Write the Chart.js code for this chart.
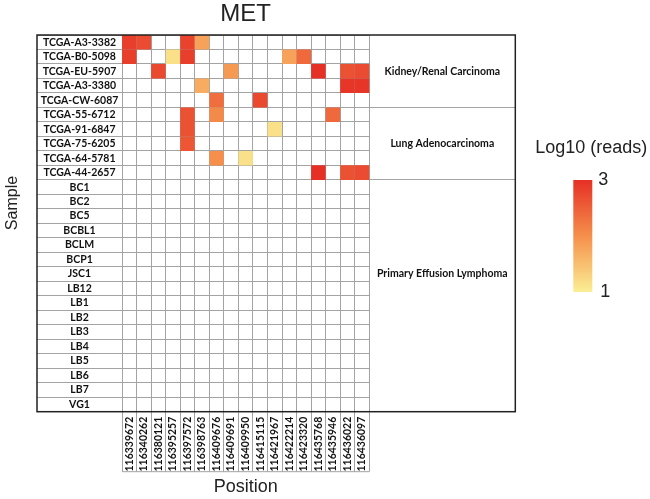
<!DOCTYPE html>
<html>
<head>
<meta charset="utf-8">
<title>MET</title>
<script src="https://cdn.jsdelivr.net/npm/chart.js@4.4.1/dist/chart.umd.min.js"></script>
<style>
  html, body { margin: 0; padding: 0; background: #fff; }
</style>
</head>
<body>
<canvas id="heatmap" width="650" height="499"></canvas>
<script>
// Samples (rows, top to bottom) and genomic positions (columns)
const samples = [
  'TCGA-A3-3382', 'TCGA-B0-5098', 'TCGA-EU-5907', 'TCGA-A3-3380', 'TCGA-CW-6087',
  'TCGA-55-6712', 'TCGA-91-6847', 'TCGA-75-6205', 'TCGA-64-5781', 'TCGA-44-2657',
  'BC1', 'BC2', 'BC5', 'BCBL1', 'BCLM', 'BCP1', 'JSC1', 'LB12',
  'LB1', 'LB2', 'LB3', 'LB4', 'LB5', 'LB6', 'LB7', 'VG1'
];
const positions = [
  '116339672', '116340262', '116380121', '116395257', '116397572', '116398763',
  '116409676', '116409691', '116409950', '116415115', '116421967', '116422214',
  '116423320', '116435768', '116435946', '116436022', '116436097'
];

// Sample groups shown in the right column
const groupNames = ['Kidney/Renal Carcinoma', 'Lung Adenocarcinoma', 'Primary Effusion Lymphoma'];
const groupFirstSample = ['TCGA-A3-3382', 'TCGA-55-6712', 'BC1'];
const groupLabelSample = ['TCGA-EU-5907', 'TCGA-75-6205', 'JSC1'];

// [sample, position, log10(reads)] - empty cells have no reads
const hits = [
  ['TCGA-A3-3382', '116339672', 2.85], ['TCGA-A3-3382', '116340262', 2.7],
  ['TCGA-A3-3382', '116397572', 2.8], ['TCGA-A3-3382', '116398763', 1.8],
  ['TCGA-B0-5098', '116339672', 2.85], ['TCGA-B0-5098', '116395257', 1.15],
  ['TCGA-B0-5098', '116397572', 2.85], ['TCGA-B0-5098', '116422214', 1.8],
  ['TCGA-B0-5098', '116423320', 2.4],
  ['TCGA-EU-5907', '116380121', 2.75], ['TCGA-EU-5907', '116409691', 1.9],
  ['TCGA-EU-5907', '116435768', 3.0], ['TCGA-EU-5907', '116436022', 2.65],
  ['TCGA-EU-5907', '116436097', 2.7],
  ['TCGA-A3-3380', '116398763', 1.7], ['TCGA-A3-3380', '116436022', 2.95],
  ['TCGA-A3-3380', '116436097', 2.95],
  ['TCGA-CW-6087', '116409676', 2.35], ['TCGA-CW-6087', '116415115', 2.75],
  ['TCGA-55-6712', '116397572', 2.65], ['TCGA-55-6712', '116409676', 2.05],
  ['TCGA-55-6712', '116435946', 2.4],
  ['TCGA-91-6847', '116397572', 2.65], ['TCGA-91-6847', '116421967', 1.15],
  ['TCGA-75-6205', '116397572', 2.6],
  ['TCGA-64-5781', '116409676', 2.0], ['TCGA-64-5781', '116409950', 1.15],
  ['TCGA-44-2657', '116435768', 3.0], ['TCGA-44-2657', '116436022', 2.65],
  ['TCGA-44-2657', '116436097', 2.7]
];

// Colour scale (log10 reads)
const scaleTicks = [1, 3];
const colorStops = [[1, [251, 238, 148]], [2, [245, 143, 75]], [3, [230, 48, 38]]];

const GRID = '#a3a3a3';
const INK = '#111111';
const LEFT_W = 122;    // label column + room for axis title
const LABEL_W = 85;    // sample label column inside the frame
const GROUP_W = 146;   // group label column
const POS_BOX = 60;    // boxes under the grid holding the positions
const LABEL_FONT = { family: 'Lato', weight: 'bold', size: 10.5 };

function colorFor(v) {
    if (v == null) return '#ffffff';
    for (let i = 1; i < colorStops.length; i++) {
        const [v0, c0] = colorStops[i - 1];
        const [v1, c1] = colorStops[i];
        if (v <= v1 || i === colorStops.length - 1) {
            const t = Math.min(1, Math.max(0, (v - v0) / (v1 - v0)));
            const c = c0.map((ch, k) => Math.round(ch + (c1[k] - ch) * t));
            return `rgb(${c[0]}, ${c[1]}, ${c[2]})`;
        }
    }
}

// Widest labels, used to center them in their columns
const measure = document.createElement('canvas').getContext('2d');
measure.font = 'bold 10.5px Lato';
const widestSample = Math.max(...samples.map(s => measure.measureText(s).width));
const widestGroup = Math.max(...groupNames.map(s => measure.measureText(s).width));

const groupStartIdx = groupFirstSample.map(s => samples.indexOf(s));

const cellRadius = (ctx) => {
    const a = ctx.chart.chartArea;
    if (!a) return 0;
    const w = (a.right - a.left) / positions.length;
    const h = (a.bottom - a.top) / samples.length;
    return Math.max(w, h) / Math.SQRT2;
};

// Frame, axis title and colour bar legend
const framePlugin = {
    id: 'frame',
    afterDraw(chart) {
        const { ctx, chartArea: a } = chart;
        const fl = a.left - LABEL_W;
        const fr = a.right + GROUP_W;
        ctx.save();

        // bottom edge of the position boxes
        ctx.strokeStyle = GRID;
        ctx.lineWidth = 1;
        ctx.beginPath();
        ctx.moveTo(a.left, a.bottom + POS_BOX);
        ctx.lineTo(a.right, a.bottom + POS_BOX);
        ctx.stroke();

        // outer frame
        ctx.strokeStyle = '#222';
        ctx.lineWidth = 1.5;
        ctx.strokeRect(fl, a.top, fr - fl, a.bottom - a.top);

        // y axis title
        ctx.fillStyle = '#222';
        ctx.font = '16px "Liberation Sans", Arial, sans-serif';
        ctx.textAlign = 'center';
        ctx.textBaseline = 'middle';
        ctx.translate(13, 203);
        ctx.rotate(-Math.PI / 2);
        ctx.fillText('Sample', 0, 0);
        ctx.setTransform(1, 0, 0, 1, 0, 0);

        // colour bar
        const bx = fr + 58, bw = 19, by = 180, bh = 112;
        const grad = ctx.createLinearGradient(0, by + bh, 0, by);
        colorStops.forEach(([v, c]) => {
            grad.addColorStop((v - scaleTicks[0]) / (scaleTicks[1] - scaleTicks[0]), `rgb(${c.join(',')})`);
        });
        ctx.fillStyle = grad;
        ctx.fillRect(bx, by, bw, bh);

        ctx.fillStyle = '#222';
        ctx.font = '18px "Liberation Sans", Arial, sans-serif';
        ctx.textAlign = 'center';
        ctx.fillText('Log10 (reads)', bx + 18, 148);
        ctx.textAlign = 'left';
        ctx.fillText(String(scaleTicks[1]), bx + 25, by);
        ctx.fillText(String(scaleTicks[0]), bx + 27, by + bh);
        ctx.restore();
    }
};

new Chart(document.getElementById('heatmap'), {
    type: 'scatter',
    data: {
        datasets: [{
            data: hits.map(([s, p, v]) => ({ x: p, y: s, v })),
            pointStyle: 'rect',
            radius: cellRadius,
            hoverRadius: cellRadius,
            borderWidth: 0,
            hoverBorderWidth: 0,
            backgroundColor: (ctx) => colorFor(ctx.raw ? ctx.raw.v : null),
            hoverBackgroundColor: (ctx) => colorFor(ctx.raw ? ctx.raw.v : null)
        }]
    },
    options: {
        responsive: false,
        animation: false,
        devicePixelRatio: 1,
        layout: { padding: { left: 0, right: 134.7, top: 0, bottom: 0 } },
        plugins: {
            legend: { display: false },
            tooltip: { enabled: false },
            title: {
                display: true,
                text: 'MET',
                fullSize: false,
                color: '#222',
                font: { family: 'Liberation Sans', size: 24, weight: 'normal' },
                padding: { top: 0, bottom: 6.2 }
            }
        },
        scales: {
            x: {
                type: 'category',
                labels: positions,
                position: 'bottom',
                offset: true,
                z: 1,
                grid: { offset: true, color: GRID, tickLength: POS_BOX },
                border: { color: GRID },
                ticks: {
                    autoSkip: false,
                    minRotation: 90,
                    maxRotation: 90,
                    padding: 5 - POS_BOX,
                    color: INK,
                    font: LABEL_FONT
                },
                title: {
                    display: true,
                    text: 'Position',
                    color: '#222',
                    font: { family: 'Liberation Sans', size: 18 },
                    padding: { top: 0, bottom: 1 }
                },
                afterFit: (s) => { s.height = 87.3; }
            },
            y: {
                type: 'category',
                labels: samples,
                position: 'left',
                offset: true,
                z: 1,
                grid: { offset: true, color: GRID, tickLength: LABEL_W },
                border: { color: GRID },
                ticks: {
                    autoSkip: false,
                    crossAlign: 'center',
                    padding: -LABEL_W / 2 - widestSample / 2,
                    color: INK,
                    font: LABEL_FONT
                },
                afterFit: (s) => { s.width = LEFT_W; }
            },
            yGroup: {
                type: 'category',
                labels: samples,
                position: 'right',
                offset: true,
                grid: {
                    offset: true,
                    drawOnChartArea: false,
                    tickLength: GROUP_W,
                    color: (ctx) => (ctx.index > 0 && groupStartIdx.includes(ctx.index)) ? GRID : 'rgba(0,0,0,0)'
                },
                border: { color: GRID },
                ticks: {
                    autoSkip: false,
                    crossAlign: 'center',
                    padding: -GROUP_W / 2 - widestGroup / 2,
                    color: INK,
                    font: LABEL_FONT,
                    callback: (value, index) => {
                        const g = groupLabelSample.indexOf(samples[index]);
                        return g >= 0 ? groupNames[g] : '';
                    }
                },
                afterFit: (s) => { s.width = GROUP_W; }
            }
        }
    },
    plugins: [framePlugin]
});
</script>
</body>
</html>
